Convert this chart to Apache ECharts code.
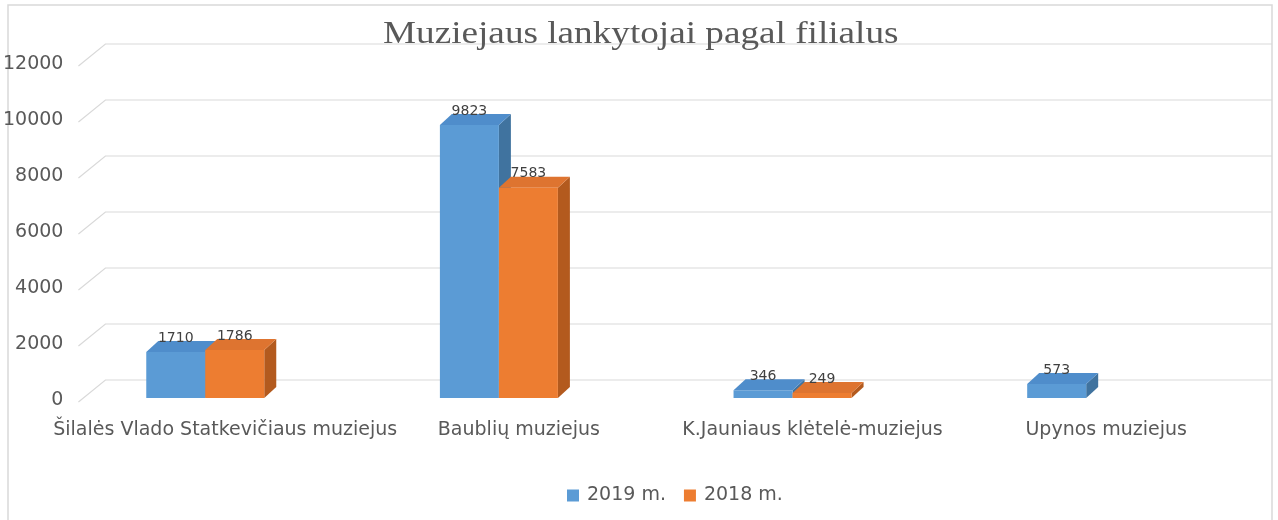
<!DOCTYPE html>
<html>
<head>
<meta charset="utf-8">
<script src="https://cdn.jsdelivr.net/npm/echarts@6/dist/echarts.min.js"></script>
<style>
  html, body { margin: 0; padding: 0; background: #fff; }
  #chart { width: 1278px; height: 520px; }
</style>
</head>
<body>
<div id="chart"></div>
<script>
// data
const categories = ['Šilalės Vlado Statkevičiaus muziejus', 'Baublių muziejus', 'K.Jauniaus klėtelė-muziejus', 'Upynos muziejus']
const visits2019 = [1710, 9823, 346, 573]
const visits2018 = [1786, 7583, 249, null]
const yTicks = [0, 2000, 4000, 6000, 8000, 10000, 12000]

const faces = [
  { front: '#5B9BD5', top: '#4F8DCB', side: '#40739F' },
  { front: '#ED7D31', top: '#DE7430', side: '#B35A1E' }
]
const barW = 59
const depth = [12, -11]
const labelFont = 'DejaVu Sans'

const chart = echarts.init(document.getElementById('chart'))

// 3d-ish box for each bar
const makeBar = (sIdx) => (params, api) => {
  const v = api.value(1)
  if (v == null || isNaN(v)) return
  const c = api.coord([api.value(0), v])
  const base = api.coord([api.value(0), 0])
  const x0 = c[0] - 79 + sIdx * barW
  const x1 = x0 + barW
  const yT = c[1]
  const yB = base[1] - 2
  const f = faces[sIdx]
  const [dx, dy] = depth
  return {
    type: 'group',
    children: [
      { type: 'polygon', shape: { points: [[x1, yT], [x1 + dx, yT + dy], [x1 + dx, yB + dy], [x1, yB]] }, style: { fill: f.side } },
      { type: 'polygon', shape: { points: [[x0, yT], [x0 + dx, yT + dy], [x1 + dx, yT + dy], [x1, yT]] }, style: { fill: f.top } },
      { type: 'rect', shape: { x: x0, y: yT, width: barW, height: yB - yT }, style: { fill: f.front } },
      { type: 'text', x: x0 + barW / 2, y: yT + dy + 4, style: { text: String(v), fill: '#404040', font: '14px "DejaVu Sans", sans-serif', align: 'center', verticalAlign: 'bottom' } }
    ]
  }
}

const option = {
  animation: false,
  legend: {
    left: 562,
    top: 481,
    itemWidth: 12,
    itemHeight: 12,
    itemGap: 18,
    icon: 'rect',
    textStyle: { fontFamily: labelFont, fontSize: 19, color: '#595959', padding: [0, 0, 0, 3] },
    data: ['2019 m.', '2018 m.']
  },
  grid: { left: 77, right: 25, top: 64, bottom: 120 },
  xAxis: {
    type: 'category',
    data: categories,
    axisLine: { show: false },
    axisTick: { show: false },
    axisLabel: { margin: 21, fontFamily: labelFont, fontSize: 19, color: '#595959', interval: 0 }
  },
  yAxis: {
    type: 'value',
    min: 0,
    max: 12000,
    interval: 2000,
    splitLine: { show: false },
    axisLabel: { margin: 15, fontFamily: labelFont, fontSize: 19, color: '#595959', formatter: v => String(v) }
  },
  graphic: [
    { type: 'rect', shape: { x: 8, y: 5, width: 1264, height: 530 }, style: { fill: 'none', stroke: '#d9d9d9', lineWidth: 1.5 }, z: 0 },
    // title is stretched a bit like the original picture
    { type: 'text', x: 383, y: 19, scaleX: 1.2, style: { text: 'Muziejaus lankytojai pagal filialus', font: '31px "Liberation Serif", serif', fill: '#595959' }, z: 5 }
  ],
  series: [
    {
      type: 'custom',
      name: 'grid',
      silent: true,
      z: 1,
      data: yTicks.map(v => [0, v]),
      renderItem: (params, api) => {
        const p = api.coord([0, api.value(1)])
        const left = params.coordSys.x
        return {
          type: 'polyline',
          shape: { points: [[left, p[1] + 2], [left + 27, p[1] - 20], [1272, p[1] - 20]] },
          style: { stroke: '#d9d9d9', lineWidth: 1.2, fill: 'none' }
        }
      }
    },
    {
      type: 'custom',
      name: '2019 m.',
      z: 3,
      itemStyle: { color: faces[0].front },
      data: visits2019.map((v, i) => [i, v]),
      renderItem: makeBar(0)
    },
    {
      type: 'custom',
      name: '2018 m.',
      z: 3,
      itemStyle: { color: faces[1].front },
      data: visits2018.map((v, i) => [i, v]),
      renderItem: makeBar(1)
    }
  ]
}

chart.setOption(option)
window.addEventListener('resize', () => { chart.resize() })
</script>
</body>
</html>
